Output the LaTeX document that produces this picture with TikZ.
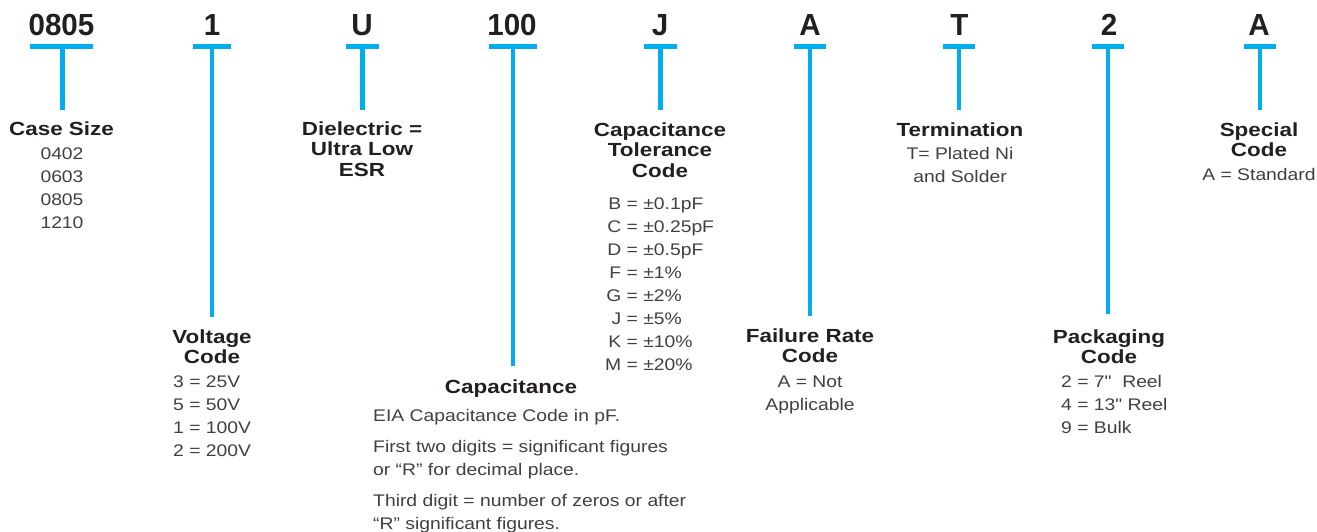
\documentclass[tikz,border=0pt]{standalone}
\usepackage{fontspec}
\setmainfont{Liberation Sans}
\newfontfamily\codefont{Liberation Sans}[FakeStretch=0.97]
\newfontfamily\headfont{Liberation Sans}[FakeStretch=1.18]
\newfontfamily\bodyfont{Liberation Sans}[FakeStretch=1.15]
\definecolor{pnblue}{HTML}{00AEEF}
\definecolor{ink}{HTML}{231F20}
\definecolor{bodyink}{HTML}{404040}
\newcommand{\cstack}[1]{\begin{tabular}[t]{@{}c@{}}#1\end{tabular}}
\newcommand{\lstack}[1]{\begin{tabular}[t]{@{}l@{}}#1\end{tabular}}
\tikzset{
  codelabel/.style={font=\codefont\bfseries\fontsize{30.5}{30}\selectfont, text=ink, anchor=base, inner sep=0pt},
  headlabel/.style={font=\headfont\bfseries\fontsize{19}{20.5}\selectfont, text=ink, anchor=base, inner sep=0pt},
  bodytext/.style={font=\bodyfont\fontsize{16.8}{23}\selectfont, text=bodyink, inner sep=0pt},
  bodyc/.style={bodytext, anchor=base},
  bodyl/.style={bodytext, anchor=base west},
  bluebar/.style={draw=pnblue, line width=4.6pt}
}
\begin{document}
\begin{tikzpicture}[x=1pt,y=-1pt]
\useasboundingbox (0,0) rectangle (1317,531);

% code letters
\node[codelabel] (c1) at (61.5,35) {0805};
\node[codelabel] (c2) at (212,35) {1};
\node[codelabel] (c3) at (362,35) {U};
\node[codelabel] (c4) at (512,35) {100};
\node[codelabel] (c5) at (660,35) {J};
\node[codelabel] (c6) at (810,35) {A};
\node[codelabel] (c7) at (959.5,35) {T};
\node[codelabel] (c8) at (1109,35) {2};
\node[codelabel] (c9) at (1259,35) {A};

% bar coordinates
\coordinate (l1) at (30,46.3);   \coordinate (r1) at (93,46.3);   \coordinate (t1) at (62.5,46.3);  \coordinate (e1) at (62.5,110);
\coordinate (l2) at (193,46.3);  \coordinate (r2) at (231,46.3);  \coordinate (t2) at (212,46.3);   \coordinate (e2) at (212,317);
\coordinate (l3) at (346,46.3);  \coordinate (r3) at (379,46.3);  \coordinate (t3) at (362.5,46.3); \coordinate (e3) at (362.5,110);
\coordinate (l4) at (489,46.3);  \coordinate (r4) at (537,46.3);  \coordinate (t4) at (513,46.3);   \coordinate (e4) at (513,366);
\coordinate (l5) at (644,46.3);  \coordinate (r5) at (677,46.3);  \coordinate (t5) at (660.5,46.3); \coordinate (e5) at (660.5,110);
\coordinate (l6) at (794,46.3);  \coordinate (r6) at (826,46.3);  \coordinate (t6) at (810,46.3);   \coordinate (e6) at (810,316);
\coordinate (l7) at (943,46.3);  \coordinate (r7) at (975,46.3);  \coordinate (t7) at (959,46.3);   \coordinate (e7) at (959,110);
\coordinate (l8) at (1092,46.3); \coordinate (r8) at (1124,46.3); \coordinate (t8) at (1108,46.3);  \coordinate (e8) at (1108,314);
\coordinate (l9) at (1244,46.3); \coordinate (r9) at (1276,46.3); \coordinate (t9) at (1260,46.3);  \coordinate (e9) at (1260,110);

\foreach \i in {1,...,9}{
  \draw[bluebar] (l\i) -- (r\i);
  \draw[bluebar] (t\i) -- (e\i);
}

% headers
\node[headlabel] (h1) at (61.5,135) {Case Size};
\node[headlabel] (h2) at (212,343) {\cstack{Voltage\\Code}};
\node[headlabel] (h3) at (362,135) {\cstack{Dielectric =\\Ultra Low\\ESR}};
\node[headlabel] (h4) at (511,393) {Capacitance};
\node[headlabel] (h5) at (660,136) {\cstack{Capacitance\\Tolerance\\Code}};
\node[headlabel] (h6) at (810,342) {\cstack{Failure Rate\\Code}};
\node[headlabel] (h7) at (960,136) {Termination};
\node[headlabel] (h8) at (1109,343) {\cstack{Packaging\\Code}};
\node[headlabel] (h9) at (1259,136) {\cstack{Special\\Code}};

% bodies
\node[bodyc] (b1) at (62,159) {\cstack{0402\\0603\\0805\\1210}};
\node[bodyl] (b2) at (173,387) {\lstack{3 = 25V\\5 = 50V\\1 = 100V\\2 = 200V}};
\node[bodyl] (b4) at (373,421) {\lstack{EIA Capacitance Code in pF.\\[8pt]
  First two digits = significant figures\\or “R” for decimal place.\\[8pt]
  Third digit = number of zeros or after\\“R” significant figures.}};
\node[bodyl] (b5) at (605,209) {\begin{tabular}[t]{@{}r@{ = }l@{}}
  B & ±0.1pF\\ C & ±0.25pF\\ D & ±0.5pF\\ F & ±1\%\\ G & ±2\%\\ J & ±5\%\\ K & ±10\%\\ M & ±20\%
  \end{tabular}};
\node[bodyc] (b6) at (810,387) {\cstack{A = Not\\Applicable}};
\node[bodyc] (b7) at (960,159) {\cstack{T= Plated Ni\\and Solder}};
\node[bodyl] (b8) at (1061,387) {\lstack{2 = 7"\ \ Reel\\4 = 13" Reel\\9 = Bulk}};
\node[bodyc] (b9) at (1259,180) {A = Standard};
\end{tikzpicture}
\end{document}
